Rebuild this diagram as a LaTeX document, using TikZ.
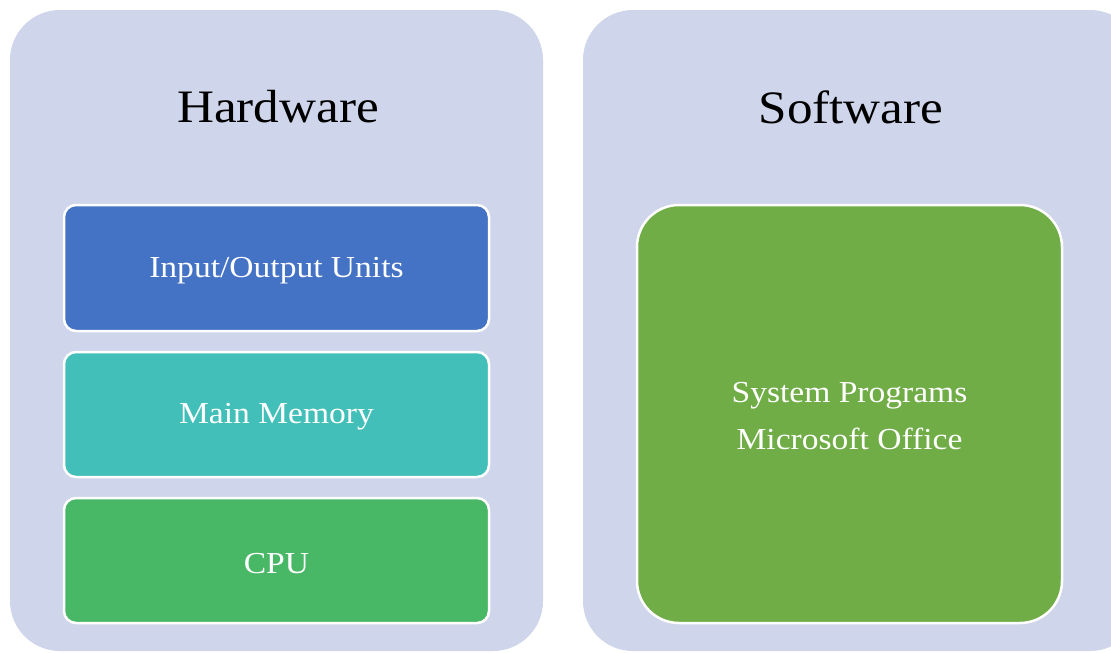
\documentclass[tikz,border=0pt]{standalone}
\usepackage{fontspec}
\setmainfont[FakeStretch=1.1]{Liberation Serif}
\definecolor{panel}{HTML}{CFD5EA}
\definecolor{ioblue}{HTML}{4472C4}
\definecolor{memteal}{HTML}{43BFB9}
\definecolor{cpugreen}{HTML}{49B866}
\definecolor{swgreen}{HTML}{70AD47}
\begin{document}
\begin{tikzpicture}[x=1pt,y=-1pt,
  panelbox/.style={fill=panel,draw=none,rounded corners=50pt},
  itembox/.style={draw=white,line width=2.5pt,rounded corners=12pt},
  title/.style={font=\fontsize{46.5}{50}\selectfont,text=black},
  itemtext/.style={font=\fontsize{30.5}{47}\selectfont,text=white,align=center}]
\useasboundingbox (0,0) rectangle (1111,653);
\fill[white] (0,0) rectangle (1111,653);
\path[panelbox] (10,10) rectangle (543,651);
\path[panelbox] (583,10) rectangle (1140,651);
\node[title] (hw) at (278,107) {Hardware};
\node[title] (sw) at (851,107) {Software};
\filldraw[itembox,fill=ioblue] (64,205) rectangle (489,331);
\filldraw[itembox,fill=memteal] (64,352) rectangle (489,477);
\filldraw[itembox,fill=cpugreen] (64,498) rectangle (489,623);
\filldraw[draw=white,line width=2.5pt,rounded corners=42pt,fill=swgreen] (637,205) rectangle (1062,623);
\node[itemtext] (io) at (276.5,271) {Input/Output Units};
\node[itemtext] (mem) at (276.5,417) {Main Memory};
\node[itemtext] (cpu) at (276.5,563.5) {CPU};
\node[itemtext] (prog) at (849.5,416.5) {System Programs\\Microsoft Office};
\end{tikzpicture}
\end{document}
